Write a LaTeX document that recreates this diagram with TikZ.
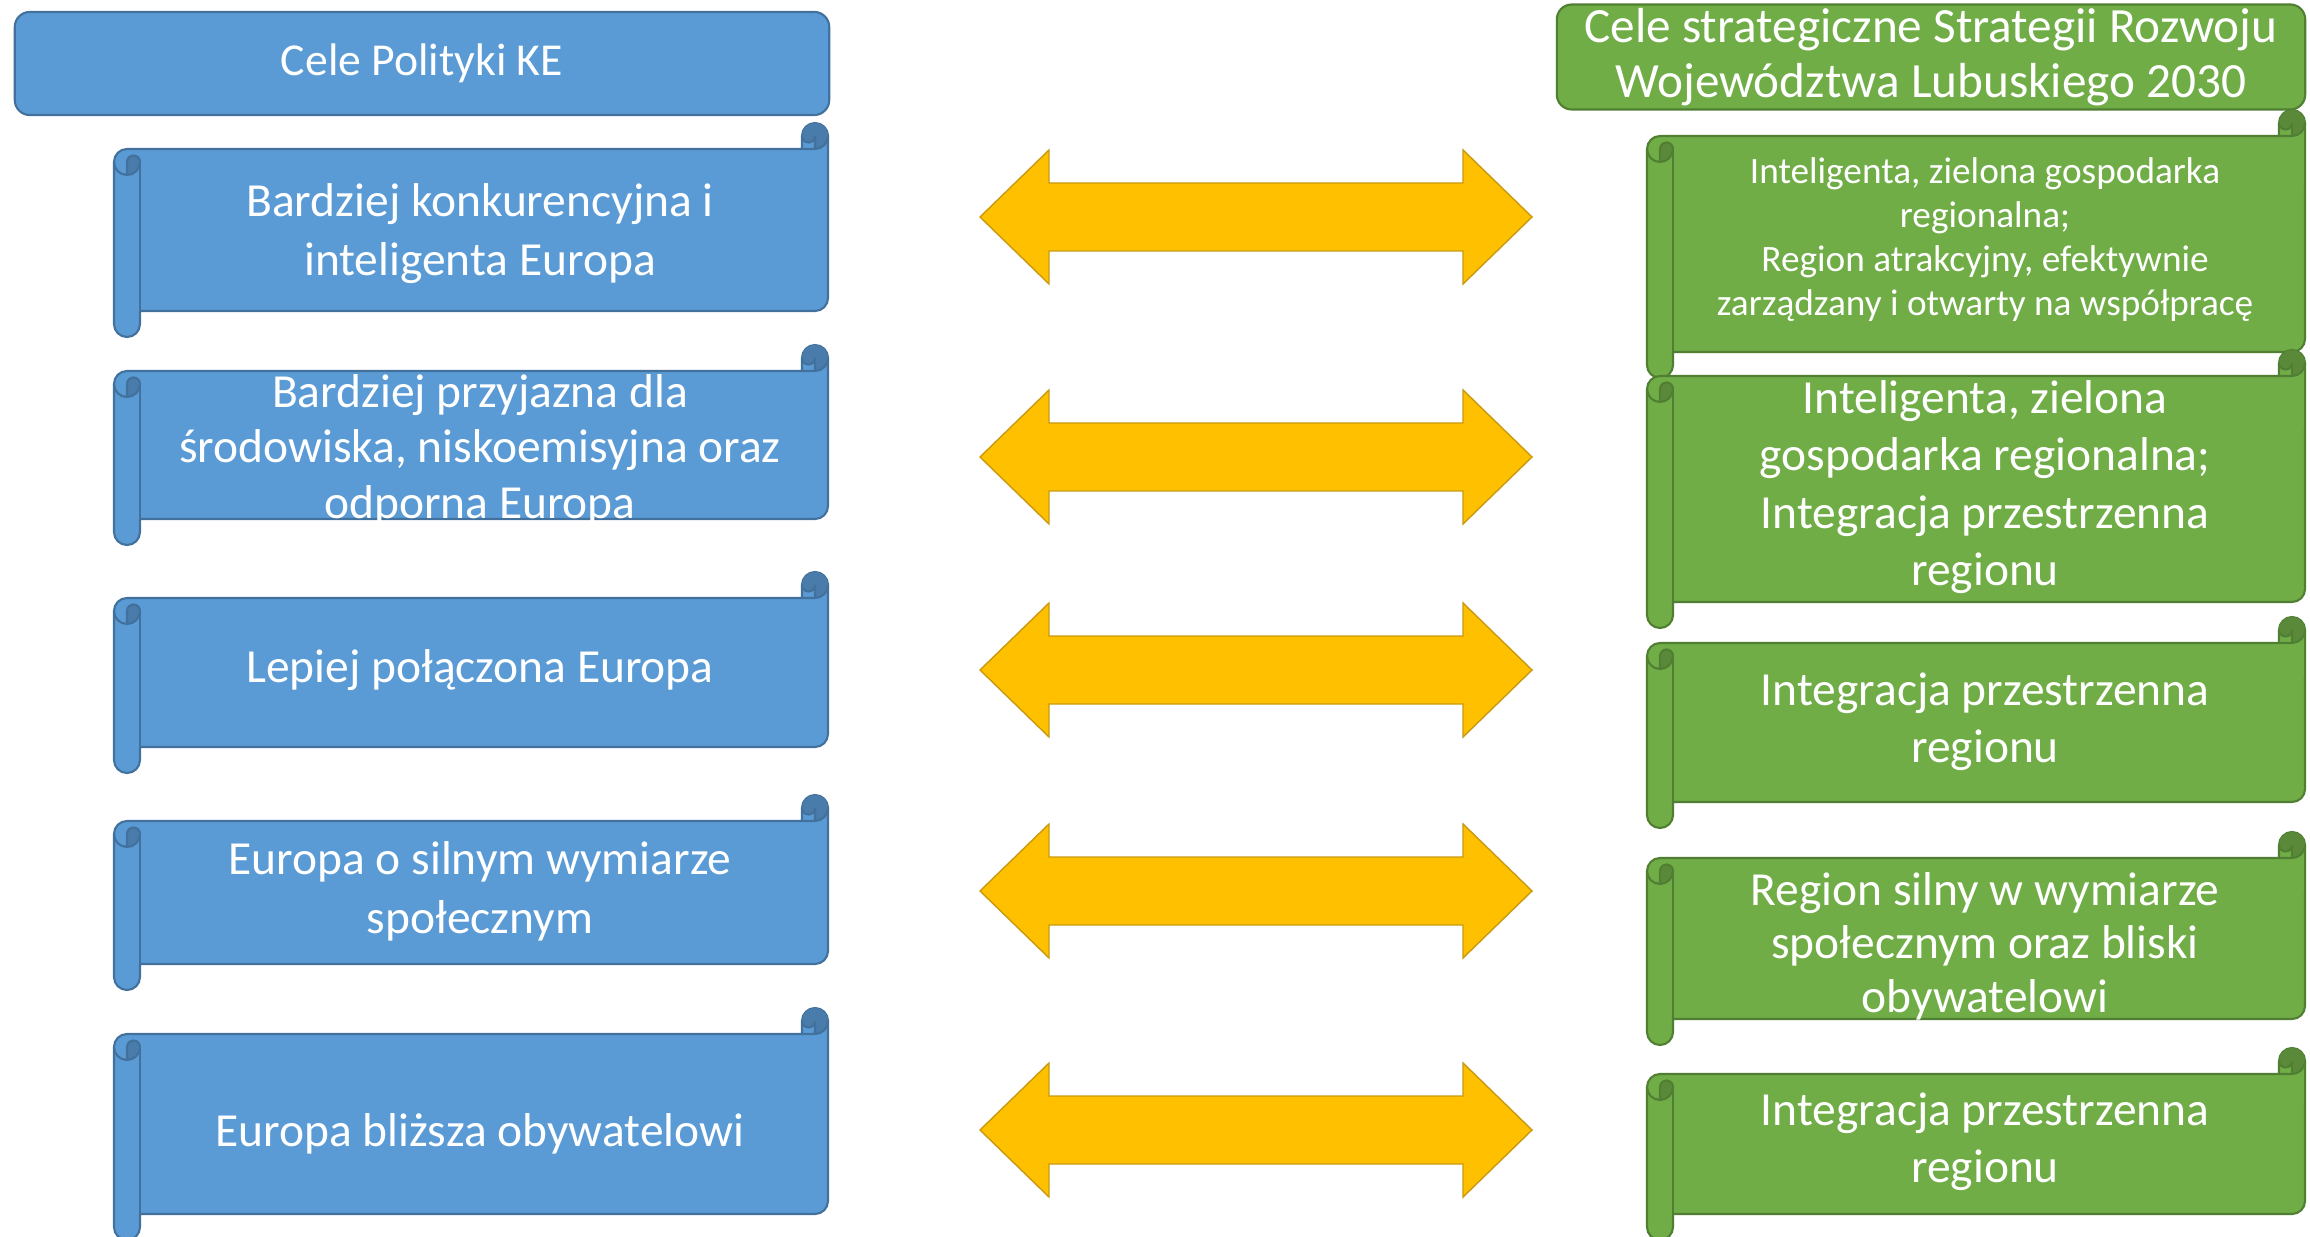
\documentclass[tikz,border=0pt]{standalone}
\usepackage{fontspec}
\setmainfont{Carlito}
\definecolor{bluefill}{HTML}{5B9BD5}
\definecolor{blueline}{HTML}{41719C}
\definecolor{bluedark}{HTML}{497CAA}
\definecolor{greenfill}{HTML}{70AD47}
\definecolor{greenline}{HTML}{507E32}
\definecolor{greendark}{HTML}{5A8A39}
\definecolor{arrowfill}{HTML}{FFC000}
\definecolor{arrowline}{HTML}{C99A10}
% #1 L, #2 T, #3 R, #4 B (pixels, y downwards), #5 colour prefix
\newcommand\scrollshape[5]{%
  \fill[#5fill, draw=#5line, line width=0.6pt, line join=round]
    ({#1},{-(#2+39)}) arc[start angle=180,end angle=90,radius=0.13cm]
    -- ({#3-26},{-(#2+26)}) -- ({#3-26},{-(#2+13)})
    arc[start angle=180,end angle=0,radius=0.13cm]
    -- ({#3},{-(#4-39)}) arc[start angle=0,end angle=-90,radius=0.13cm]
    -- ({#1+26},{-(#4-26)}) -- ({#1+26},{-(#4-13)})
    arc[start angle=0,end angle=-180,radius=0.13cm] -- cycle;
  \fill[#5dark] ({#1+13},{-(#2+52)}) arc[start angle=-90,end angle=0,radius=0.13cm]
    arc[start angle=0,end angle=180,radius=0.065cm] -- cycle;
  \fill[#5dark] ({#3-13},{-(#2+26)}) arc[start angle=-90,end angle=180,radius=0.13cm]
    arc[start angle=180,end angle=360,radius=0.065cm] -- cycle;
  \draw[#5line, line width=0.6pt] ({#3-26},{-(#2+26)}) -- ({#3-13},{-(#2+26)})
    arc[start angle=-90,end angle=0,radius=0.13cm];
  \draw[#5line, line width=0.6pt] ({#3-13},{-(#2+26)}) -- ({#3-13},{-(#2+13)})
    arc[start angle=0,end angle=-180,radius=0.065cm];
  \draw[#5line, line width=0.6pt] ({#1+13},{-(#2+52)}) -- ({#1+13},{-(#2+39)})
    arc[start angle=180,end angle=0,radius=0.065cm]
    arc[start angle=0,end angle=-180,radius=0.13cm];
  \draw[#5line, line width=0.6pt] ({#1+26},{-(#2+39)}) -- ({#1+26},{-(#4-26)});
}
% #1 name, #2 centre y (pixels)
\newcommand\dblarrow[2]{%
  \coordinate (#1) at (1256,{-#2});
  \draw[arrowsty] (#1) ++(-276,0) -- ++(69,67) -- ++(0,-33) -- ++(414,0) -- ++(0,33)
    -- ++(69,-67) -- ++(-69,-67) -- ++(0,33) -- ++(-414,0) -- ++(0,-33) -- cycle;
}
\tikzset{
  arrowsty/.style={fill=arrowfill, draw=arrowline, line width=0.4pt, line join=miter},
  lt/.style={text=white, align=center, inner sep=0pt, font=\fontsize{13.5}{16.8}\selectfont},
  ltight/.style={text=white, align=center, inner sep=0pt, font=\fontsize{13.5}{15.8}\selectfont},
  rt/.style={text=white, align=center, inner sep=0pt, font=\fontsize{13.5}{16.3}\selectfont},
  rtight/.style={text=white, align=center, inner sep=0pt, font=\fontsize{13.5}{15.2}\selectfont},
  rsmall/.style={text=white, align=center, inner sep=0pt, font=\fontsize{10.6}{12.5}\selectfont},
  hdr/.style={rounded corners=0.15cm, line width=0.6pt, text=white, align=center, inner sep=0pt}
}
\begin{document}
\begin{tikzpicture}[x=0.01cm, y=0.01cm]
\clip (0,0) rectangle (2310,-1237);
\fill[white] (0,0) rectangle (2310,-1237);

% headers
\node[hdr, fill=bluefill, draw=blueline, minimum width=8.14cm, minimum height=1.03cm,
      font=\fontsize{13}{15.5}\selectfont] (hl) at (422,-63.5) {Cele Polityki KE};
\node[hdr, fill=greenfill, draw=greenline, minimum width=7.48cm, minimum height=1.05cm,
      font=\fontsize{14}{15.5}\selectfont] (hr) at (1931,-57)
      {Cele strategiczne Strategii Rozwoju\\Województwa Lubuskiego 2030};

% left scrolls
\scrollshape{114}{123}{828}{337}{blue}
\scrollshape{114}{345}{828}{545}{blue}
\scrollshape{114}{572}{828}{773}{blue}
\scrollshape{114}{795}{828}{990}{blue}
\scrollshape{114}{1008}{828}{1240}{blue}

\node[lt] (l1) at (480,-234) {Bardziej konkurencyjna i\\inteligenta Europa};
\node[ltight] (l2) at (480,-450) {Bardziej przyjazna dla\\środowiska, niskoemisyjna oraz\\odporna Europa};
\node[lt] (l3) at (480,-670) {Lepiej połączona Europa};
\node[lt] (l4) at (480,-891) {Europa o silnym wymiarze\\społecznym};
\node[lt] (l5) at (480,-1134) {Europa bliższa obywatelowi};

% right scrolls
\scrollshape{1647}{110}{2305}{378}{green}
\scrollshape{1647}{350}{2305}{628}{green}
\scrollshape{1647}{617}{2305}{828}{green}
\scrollshape{1647}{832}{2305}{1045}{green}
\scrollshape{1647}{1048}{2305}{1240}{green}

\node[rsmall] (r1) at (1985,-240) {Inteligenta, zielona gospodarka\\regionalna;\\Region atrakcyjny, efektywnie\\zarządzany i otwarty na współpracę};
\node[rt] (r2) at (1985,-487) {Inteligenta, zielona\\gospodarka regionalna;\\Integracja przestrzenna\\regionu};
\node[rt] (r3) at (1985,-722) {Integracja przestrzenna\\regionu};
\node[rtight] (r4) at (1985,-946) {Region silny w wymiarze\\społecznym oraz bliski\\obywatelowi};
\node[rt] (r5) at (1985,-1142) {Integracja przestrzenna\\regionu};

% arrows
\dblarrow{a1}{217}
\dblarrow{a2}{457}
\dblarrow{a3}{670}
\dblarrow{a4}{891}
\dblarrow{a5}{1130}
\end{tikzpicture}
\end{document}
